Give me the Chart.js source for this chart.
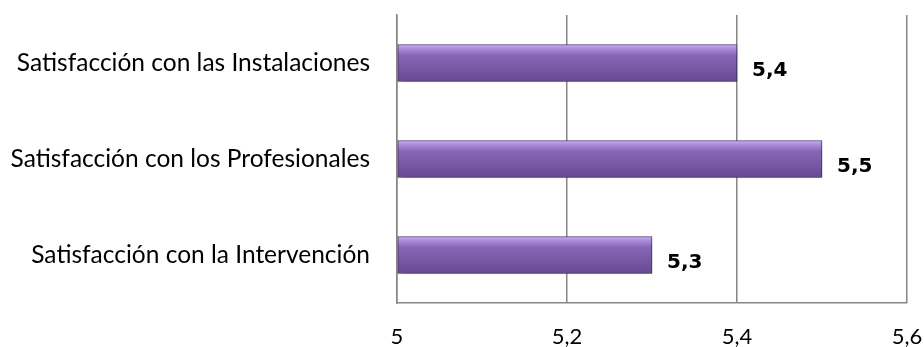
<!DOCTYPE html>
<html>
<head>
<meta charset="utf-8">
<script src="https://cdn.jsdelivr.net/npm/chart.js@4"></script>
<style>
  html, body { margin: 0; padding: 0; background: #fff; }
  #wrap { width: 924px; height: 347px; }
</style>
</head>
<body>
<div id="wrap"><canvas id="chart"></canvas></div>
<script>
// Chart data
const categories = [
    'Satisfacción con las Instalaciones',
    'Satisfacción con los Profesionales',
    'Satisfacción con la Intervención'
];
const scores = [5.4, 5.5, 5.3];
const xTicks = [5, 5.2, 5.4, 5.6];

const BAR_H = 37;
const fmt = v => String(v).replace('.', ',');

// gradient per bar, using the category scale position
function barGradient(context) {
    const chart = context.chart;
    const yScale = chart.scales.y;
    if (!chart.chartArea || !yScale) return '#7a5ca8';
    const cy = yScale.getPixelForValue(context.dataIndex);
    const g = chart.ctx.createLinearGradient(0, cy - BAR_H / 2, 0, cy + BAR_H / 2);
    g.addColorStop(0, '#c6aef2');
    g.addColorStop(0.12, '#a98bda');
    g.addColorStop(0.3, '#8466b3');
    g.addColorStop(0.65, '#7758a4');
    g.addColorStop(1, '#664a90');
    return g;
}

// soft drop shadow under the bars
const shadowPlugin = {
    id: 'barShadow',
    beforeDatasetDraw(chart) {
        const ctx = chart.ctx;
        ctx.save();
        ctx.shadowColor = 'rgba(0,0,0,0.35)';
        ctx.shadowBlur = 7;
        ctx.shadowOffsetX = 2;
        ctx.shadowOffsetY = 5;
    },
    afterDatasetDraw(chart) {
        chart.ctx.restore();
    }
};

// value labels at the bar ends
const valueLabels = {
    id: 'valueLabels',
    afterDatasetsDraw(chart) {
        const ctx = chart.ctx;
        const meta = chart.getDatasetMeta(0);
        ctx.save();
        ctx.font = "bold 20px 'DejaVu Sans'";
        ctx.fillStyle = '#000';
        ctx.textAlign = 'left';
        ctx.textBaseline = 'middle';
        meta.data.forEach((bar, i) => {
            ctx.fillText(fmt(scores[i]), bar.x + 15, bar.y + 8);
        });
        ctx.restore();
    }
};

new Chart(document.getElementById('chart'), {
    type: 'bar',
    data: {
        labels: categories,
        datasets: [{
            data: scores,
            base: 5,
            backgroundColor: barGradient,
            borderColor: '#523d78',
            borderWidth: 1,
            borderSkipped: false,
            barThickness: BAR_H
        }]
    },
    options: {
        indexAxis: 'y',
        responsive: true,
        maintainAspectRatio: false,
        animation: false,
        layout: { padding: { top: 15, right: 17, left: 0, bottom: 0 } },
        plugins: {
            legend: { display: false },
            tooltip: { enabled: false }
        },
        scales: {
            x: {
                min: 5,
                max: 5.6,
                afterBuildTicks: scale => {
                    scale.ticks = xTicks.map(v => ({ value: v }));
                },
                afterFit: scale => {
                    scale.height = 44;
                    scale.paddingLeft = 0;
                    scale.paddingRight = 0;
                },
                grid: {
                    color: '#868686',
                    lineWidth: 1.5,
                    drawTicks: false
                },
                border: { display: true, color: '#868686', width: 1.5 },
                ticks: {
                    color: '#000',
                    padding: 21,
                    font: { family: 'Lato', size: 22 },
                    callback: v => fmt(v)
                }
            },
            y: {
                afterFit: scale => {
                    scale.width = 397;
                    scale.paddingTop = 0;
                    scale.paddingBottom = 0;
                },
                grid: { display: false, drawTicks: false },
                border: { display: true, color: '#868686', width: 1.5 },
                ticks: {
                    color: '#000',
                    padding: 27,
                    font: { family: 'Lato', size: 24.5 }
                }
            }
        }
    },
    plugins: [shadowPlugin, valueLabels]
});
</script>
</body>
</html>
